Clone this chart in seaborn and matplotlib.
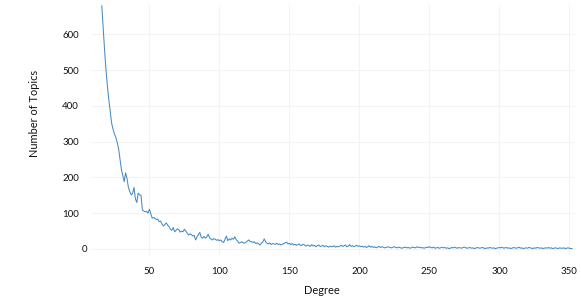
import matplotlib
matplotlib.use("Agg")
import matplotlib.pyplot as plt
import matplotlib.transforms as mtransforms
import seaborn as sns
import pandas as pd

# Number of topics per degree (degree starts at 16)
start_degree = 16
counts = [
    680, 615, 555, 500, 455, 418, 385, 352, 335, 322, 312, 298, 280,
    250, 222, 205, 188, 213, 197, 172, 160, 151, 155, 172, 140, 130, 156, 151, 150,
    109, 106, 104, 105, 100, 111, 98, 86, 88, 85, 82, 83, 76, 78, 70, 64, 68, 73,
    67, 62, 55, 52, 60, 48, 52, 56, 54, 47, 50, 48, 55, 50, 44, 39, 42, 40, 36, 38,
    25, 34, 40, 46, 33, 30, 35, 30, 34, 41, 31, 28, 25, 29, 27, 24, 26, 23, 25, 20,
    18, 27, 36, 23, 28, 25, 30, 27, 34, 26, 22, 16, 18, 20, 17, 16, 19, 22, 25, 21,
    20, 18, 20, 15, 17, 14, 11, 16, 19, 28, 20, 16, 14, 17, 12, 15, 14, 13, 16, 12,
    14, 11, 13, 15, 17, 19, 14, 16, 12, 15, 11, 13, 10, 12, 14, 9, 11, 13, 10,
    8, 11, 9, 7, 12, 8, 10, 6, 9, 11, 7, 8, 10, 6, 9, 7, 5, 8, 6, 7, 9, 5, 7, 6, 8,
    10, 7, 9, 11, 6, 8, 12, 7, 9, 6, 8, 10, 7, 9,
    6, 8, 5, 7, 4, 6, 9, 5, 7, 4, 6, 3, 5, 7, 4, 6, 5, 3, 4, 6, 5, 4, 3, 5, 6, 4, 3,
    5, 4, 2, 3, 4, 5, 3, 4, 2, 3, 5, 4, 3, 6, 4, 5, 3, 4, 2, 3, 5, 4, 6,
    4, 3, 5, 2, 3, 4, 2, 3, 5, 3, 4, 2, 3, 1, 2, 4, 3, 5, 3, 2, 4, 3, 2, 4, 5, 3, 2,
    3, 4, 2, 3, 1, 2, 4, 3, 2, 3, 4, 2, 1, 3, 2, 4, 3, 2, 3, 1, 2, 3, 4,
    3, 5, 2, 3, 4, 2, 3, 1, 2, 4, 3, 2, 3, 5, 2, 3, 1, 2, 3, 2, 4, 3, 2, 1, 3, 2, 4,
    3, 2, 3, 1, 2, 3, 2, 4, 2, 3, 1, 2, 3, 2, 1, 3, 2, 2, 3, 1, 2, 3, 2, 1, 1,
]
degrees = list(range(start_degree, start_degree + len(counts)))
x_ticks = [50, 100, 150, 200, 250, 300, 350]
y_ticks = [0, 100, 200, 300, 400, 500, 600]

sns.set_style("white")
plt.rcParams["font.family"] = ["Lato", "DejaVu Sans"]

df = pd.DataFrame({"Degree": degrees, "Number of Topics": counts})

fig = plt.figure(figsize=(5.81, 3.0), dpi=100)
ax = fig.add_axes([92 / 581, 45 / 300, (575 - 92) / 581, 250 / 300])

sns.lineplot(data=df, x="Degree", y="Number of Topics", ax=ax,
             color="#428bca", linewidth=0.75)

ax.set_xlim(9, 354)
ax.set_ylim(-17, 682)
ax.set_xticks(x_ticks)
ax.set_yticks(y_ticks)
ax.set_xticklabels([str(t) for t in x_ticks])
ax.set_yticklabels([str(t) for t in y_ticks])
ax.grid(True, color="#f3f3f3", linewidth=0.8)
ax.set_axisbelow(True)
for s in ax.spines.values():
    s.set_visible(False)
ax.tick_params(axis="both", length=0, labelsize=7.0, colors="#111111")
ax.tick_params(axis="y", pad=9.4)
ax.tick_params(axis="x", pad=8.6)

# "0" label sits further right in the reference
lbl0 = ax.get_yticklabels()[0]
lbl0.set_transform(lbl0.get_transform() +
                   mtransforms.ScaledTranslation(8.7 / 100, 0, fig.dpi_scale_trans))

ax.set_xlabel("")
ax.set_ylabel("")
fig.text(35 / 581, 1 - 113.5 / 300, "Number of Topics", rotation=90,
         ha="center", va="center", fontsize=7.9, color="#111111")
fig.text(321.7 / 581, 1 - 291 / 300, "Degree", ha="center", va="center",
         fontsize=7.9, color="#111111")

fig.savefig("out.png", dpi=100)
